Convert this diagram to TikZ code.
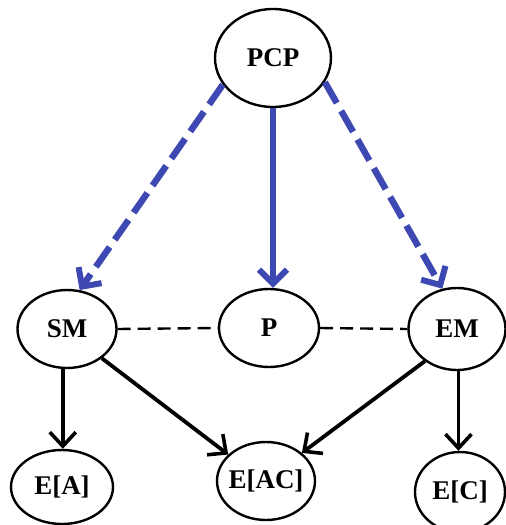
\documentclass[tikz,border=0pt]{standalone}
\usepackage{fontspec}
\setmainfont{Liberation Serif}
\usetikzlibrary{arrows.meta,shapes.geometric}
\definecolor{arrblue}{RGB}{62,72,178}
\begin{document}
\begin{tikzpicture}[x=1pt,y=-1pt,
  ell/.style={draw,ellipse,line width=2.4pt,inner sep=0pt,font=\fontsize{27}{30}\selectfont\bfseries},
  blk/.style={line width=3.8pt,-{Straight Barb[length=14pt,width=26pt,line width=3.6pt]}},
  blu/.style={draw=arrblue,line width=6.5pt,-{Straight Barb[length=14pt,width=28pt,line width=6pt]}},
  bdash/.style={dash pattern=on 24pt off 9pt},
  kdash/.style={line width=2.4pt,dash pattern=on 13pt off 7pt}]
\useasboundingbox (0,0) rectangle (506,525);
\node[ell,minimum width=116pt,minimum height=98pt] (pcp) at (273,58) {PCP};
\node[ell,minimum width=99pt,minimum height=78pt] (sm) at (67,329) {SM};
\node[ell,minimum width=100pt,minimum height=78pt] (p) at (269,328) {P};
\node[ell,minimum width=97pt,minimum height=82pt] (em) at (457,329) {EM};
\node[ell,minimum width=102pt,minimum height=74pt] (ea) at (62,487) {\makebox[0pt]{E[A]}};
\node[ell,minimum width=98pt,minimum height=78pt] (eac) at (266,481) {\makebox[0pt]{E[AC]}};
\node[ell,minimum width=90pt,minimum height=80pt] (ec) at (460,492) {\makebox[0pt]{E[C]}};
\draw[blu,bdash] (pcp.208) -- (sm.72);
\draw[blu] (pcp.south) -- (pcp.south |- p.north);
\draw[blu,bdash] (pcp.335) -- (em.110);
\draw[kdash] (sm.east) -- (p.west);
\draw[kdash] (p.east) -- (em.west);
\draw[blk] (sm.264) -- (sm.264 |- ea.north);
\draw[blk] (sm.-40) -- (eac.145);
\draw[blk] (em.-135) -- (eac.38);
\draw[blk] (em.-88) -- (em.-88 |- ec.north);
\end{tikzpicture}
\end{document}
